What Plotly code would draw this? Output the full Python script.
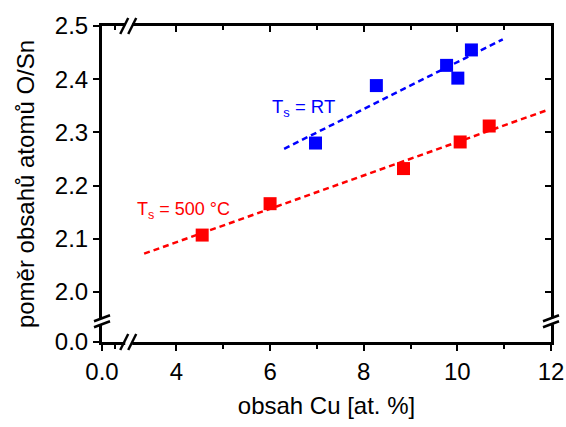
import plotly.graph_objects as go

# Data
cu_rt = [6.97, 8.27, 9.77, 10.01, 10.30]
os_rt = [2.280, 2.388, 2.426, 2.402, 2.455]
cu_500 = [4.55, 6.00, 8.85, 10.06, 10.68]
os_500 = [2.107, 2.166, 2.232, 2.282, 2.312]
fit_rt_x = [6.30, 10.97]
fit_rt_y = [2.269, 2.475]
fit_500_x = [3.31, 11.92]
fit_500_y = [2.072, 2.342]

x_range = [2.41, 12.0]
y_range = [1.906, 2.5]
x_tickvals = [2.41, 4, 6, 8, 10, 12]
x_ticktext = ["0.0", "4", "6", "8", "10", "12"]
x_minor = [2.69, 5, 7, 9, 11]
y_tickvals = [1.906, 2.0, 2.1, 2.2, 2.3, 2.4, 2.5]
y_ticktext = ["0.0", "2.0", "2.1", "2.2", "2.3", "2.4", "2.5"]
x_break = 2.97
y_break = 1.945

BLUE = "#0000FF"
RED = "#FF0000"
FONT = "Liberation Sans, Arial, sans-serif"

fig = go.Figure()
fig.add_trace(go.Scatter(x=fit_rt_x, y=fit_rt_y, mode="lines",
                         line=dict(color=BLUE, width=2.5, dash="6px,4px"), showlegend=False))
fig.add_trace(go.Scatter(x=fit_500_x, y=fit_500_y, mode="lines",
                         line=dict(color=RED, width=2.5, dash="6px,4px"), showlegend=False))
fig.add_trace(go.Scatter(x=cu_rt, y=os_rt, mode="markers",
                         marker=dict(symbol="square", size=13, color=BLUE, line=dict(width=0)),
                         showlegend=False))
fig.add_trace(go.Scatter(x=cu_500, y=os_500, mode="markers",
                         marker=dict(symbol="square", size=13, color=RED, line=dict(width=0)),
                         showlegend=False))
# dummy trace for mirror axes
fig.add_trace(go.Scatter(x=[None], y=[None], xaxis="x2", yaxis="y2", showlegend=False))

axis_common = dict(showline=True, linecolor="black", linewidth=3, showgrid=False,
                   zeroline=False, tickcolor="black", tickwidth=2, ticklen=6,
                   automargin=False)

fig.update_layout(
    width=566, height=427,
    margin=dict(l=102, r=15, t=26, b=85),
    plot_bgcolor="white", paper_bgcolor="white",
    font=dict(family=FONT, size=24, color="black"),
    xaxis=dict(range=x_range, tickmode="array", tickvals=x_tickvals, ticktext=x_ticktext,
               ticks="outside",
               minor=dict(tickmode="array", tickvals=x_minor, ticks="outside", ticklen=4,
                          tickwidth=2, tickcolor="black"),
               title=dict(text="obsah Cu [at. %]", standoff=14, font=dict(size=24)),
               **axis_common),
    yaxis=dict(range=y_range, tickmode="array", tickvals=y_tickvals, ticktext=y_ticktext,
               ticks="outside",
               title=dict(text="poměr obsahů atomů O/Sn", standoff=14, font=dict(size=24)),
               **axis_common),
    xaxis2=dict(range=x_range, overlaying="x", side="top", anchor="y", tickmode="array",
                tickvals=x_tickvals, ticks="inside", showticklabels=False,
                minor=dict(tickmode="array", tickvals=x_minor, ticks="inside", ticklen=4,
                           tickwidth=2, tickcolor="black"),
                **axis_common),
    yaxis2=dict(range=y_range, overlaying="y", side="right", anchor="x", tickmode="array",
                tickvals=y_tickvals, ticks="inside", showticklabels=False,
                **axis_common),
)

fig.add_annotation(x=6.0, y=2.345, xref="x", yref="y", xanchor="left", yanchor="middle",
                   text="T<sub>s</sub> = RT", showarrow=False,
                   font=dict(family=FONT, size=18.5, color=BLUE))
fig.add_annotation(x=3.12, y=2.154, xref="x", yref="y", xanchor="left", yanchor="middle",
                   text="T<sub>s</sub> = 500 °C", showarrow=False,
                   font=dict(family=FONT, size=18, color=RED))

# Axis break marks (pixel-sized shapes anchored on the axes)
def hbreak(xval, yp):
    fig.add_shape(type="rect", xref="x", yref="paper", xsizemode="pixel", ysizemode="pixel",
                  xanchor=xval, yanchor=yp, x0=-3, x1=4, y0=-3, y1=3,
                  fillcolor="white", line=dict(width=0), layer="above")
    for dx in (-4, 4):
        fig.add_shape(type="line", xref="x", yref="paper", xsizemode="pixel", ysizemode="pixel",
                      xanchor=xval, yanchor=yp, x0=dx - 4, x1=dx + 4, y0=-8, y1=8,
                      line=dict(color="black", width=2.5), layer="above")

def vbreak(xp, yval):
    fig.add_shape(type="rect", xref="paper", yref="y", xsizemode="pixel", ysizemode="pixel",
                  xanchor=xp, yanchor=yval, x0=-3, x1=3, y0=-3, y1=3,
                  fillcolor="white", line=dict(width=0), layer="above")
    for dy in (-3, 3):
        fig.add_shape(type="line", xref="paper", yref="y", xsizemode="pixel", ysizemode="pixel",
                      xanchor=xp, yanchor=yval, x0=-8, x1=8, y0=dy - 3, y1=dy + 3,
                      line=dict(color="black", width=2.5), layer="above")

hbreak(x_break, 0)
hbreak(x_break, 1)
vbreak(0, y_break)
vbreak(1, y_break)

fig.write_html("out.html", config={"displayModeBar": False},
               post_script="document.body.style.margin='0';document.body.style.overflow='hidden';")
